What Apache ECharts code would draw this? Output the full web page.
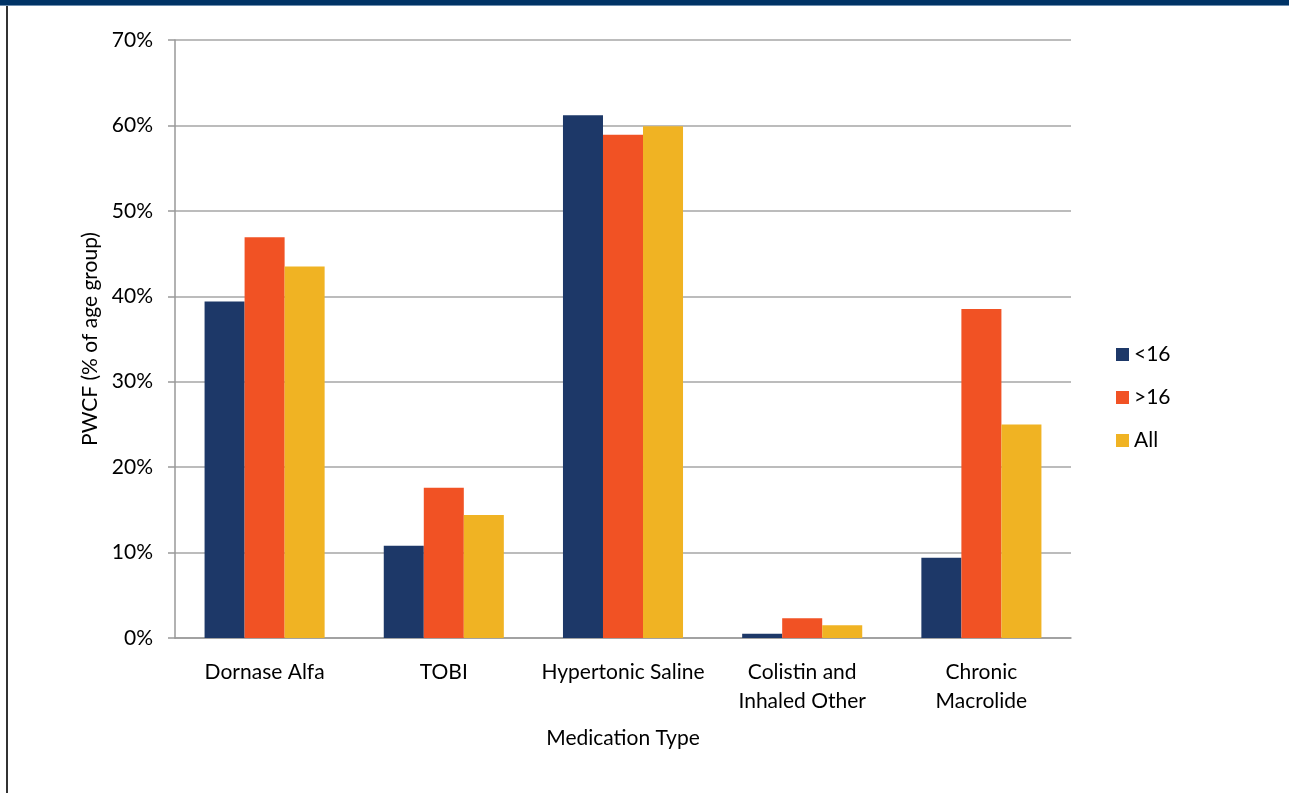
<!DOCTYPE html>
<html>
<head>
<meta charset="utf-8">
<script src="https://cdn.jsdelivr.net/npm/echarts@6/dist/echarts.min.js"></script>
<style>
  html, body { margin: 0; padding: 0; background: #fff; }
  #main { width: 1289px; height: 793px; }
</style>
</head>
<body>
<div id="main"></div>
<script>
var myChart = echarts.init(document.getElementById('main'));

const categories = ['Dornase Alfa', 'TOBI', 'Hypertonic Saline', 'Colistin and\nInhaled Other', 'Chronic\nMacrolide'];
const under16 = [39.4, 10.8, 61.2, 0.5, 9.4];
const over16 = [46.9, 17.6, 58.9, 2.3, 38.5];
const allAges = [43.5, 14.4, 59.9, 1.5, 25.0];

const font = 'Lato, "Open Sans", sans-serif';

function bar(name, data, color) {
  return {
    name: name,
    type: 'bar',
    data: data,
    barGap: '0%',
    barCategoryGap: '33%',
    itemStyle: { color: color },
    emphasis: { disabled: true }
  };
}

const option = {
  animation: false,
  textStyle: { fontFamily: font },
  graphic: [
    { type: 'rect', shape: { x: 0, y: 0, width: 1289, height: 5 }, style: { fill: '#003366' } },
    { type: 'rect', shape: { x: 0, y: 5, width: 1289, height: 1 }, style: { fill: '#6f8fb0' } },
    { type: 'rect', shape: { x: 6, y: 6, width: 2, height: 787 }, style: { fill: '#333' } }
  ],
  legend: {
    orient: 'vertical',
    left: 1111,
    top: 339,
    itemWidth: 13,
    itemHeight: 13,
    itemGap: 22,
    icon: 'rect',
    textStyle: { fontSize: 21, color: '#000', fontFamily: font },
    data: ['<16', '>16', 'All']
  },
  grid: { left: 175, right: 218, top: 40, bottom: 155 },
  xAxis: {
    type: 'category',
    data: categories,
    name: 'Medication Type',
    nameLocation: 'middle',
    nameGap: 90,
    nameTextStyle: { fontSize: 21, color: '#000' },
    axisLine: { lineStyle: { color: '#999', width: 1.5 } },
    axisTick: { length: 7, lineStyle: { color: '#999', width: 1.5 } },
    axisLabel: { fontSize: 21, color: '#000', margin: 20, lineHeight: 29, interval: 0 }
  },
  yAxis: {
    type: 'value',
    min: 0,
    max: 70,
    interval: 10,
    name: 'PWCF (% of age group)',
    nameLocation: 'middle',
    nameGap: 74,
    nameTextStyle: { fontSize: 21, color: '#000' },
    axisLine: { show: true, lineStyle: { color: '#999', width: 1.5 } },
    axisTick: { show: true, length: 7, lineStyle: { color: '#999', width: 1.5 } },
    axisLabel: { fontSize: 21, color: '#000', margin: 22, formatter: '{value}%' },
    splitLine: { lineStyle: { color: '#a6a6a6', width: 1.5 } }
  },
  series: [
    bar('<16', under16, '#1d3868'),
    bar('>16', over16, '#f15224'),
    bar('All', allAges, '#f0b323')
  ]
};

myChart.setOption(option);
</script>
</body>
</html>
